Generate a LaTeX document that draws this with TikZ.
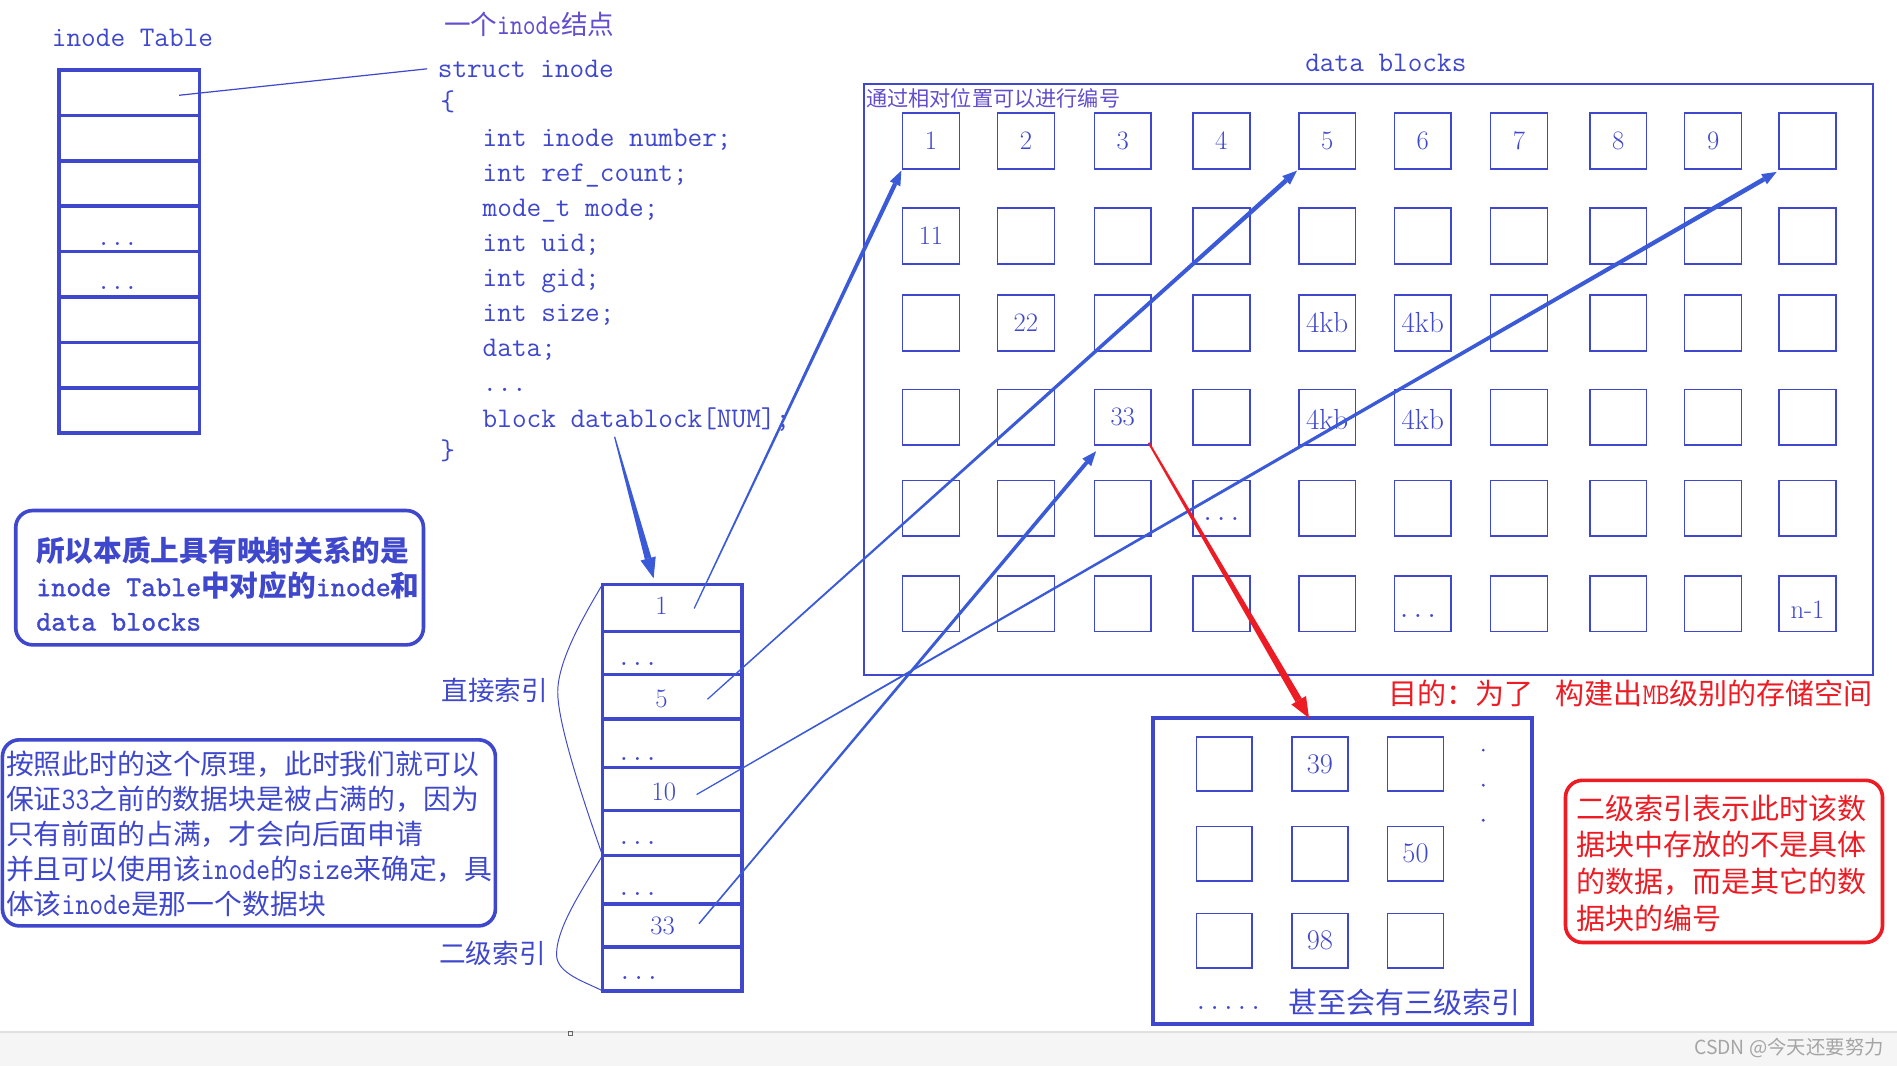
\documentclass[tikz,border=0pt]{standalone}
\usepackage{fontspec}
\newfontfamily\cjk{Noto Sans CJK SC}
\newfontfamily\nmono[FakeStretch=0.84]{lmmono10-regular.otf}
\newfontfamily\bmono[FakeBold=1.2]{lmmono10-regular.otf}
\usetikzlibrary{calc}
\definecolor{pblue}{RGB}{63,72,204}
\definecolor{ablue}{RGB}{58,90,216}
\definecolor{pred}{RGB}{237,28,36}
\definecolor{lpur}{RGB}{98,78,206}
\definecolor{wmgray}{RGB}{165,165,165}
\newcommand\zh[1]{{\cjk #1}}
\newcommand\fsz[1]{\fontsize{#1pt}{#1pt}\selectfont}
\newcommand\nm[2]{{\nmono\fontsize{#1pt}{#1pt}\selectfont #2}}
\newcommand\bm[2]{{\bmono\fontsize{#1pt}{#1pt}\selectfont #2}}
% tapered arrow: color, start, tip, start half-width, end half-width, head length, head half-width
\newcommand\taparrow[7]{%
  \coordinate (tpb) at ($(#3)!#6!(#2)$);
  \fill[#1] ($(#2)!#4!90:(#3)$) -- ($(tpb)!#5!-90:(#2)$) -- ($(tpb)!#5!90:(#2)$) -- ($(#2)!#4!-90:(#3)$) -- cycle;
  \fill[#1] (#3) -- ($(tpb)!#7!90:(#3)$) -- ($(tpb)!#7!-90:(#3)$) -- cycle;
}
\begin{document}
\begin{tikzpicture}[x=1pt,y=-1pt,
  every node/.style={text=pblue, inner sep=0pt, outer sep=0pt},
  dbox/.style={draw=pblue, line width=1.3pt, minimum width=47pt, minimum height=46pt},
  sbox/.style={draw=pblue, line width=1.3pt, minimum width=46pt, minimum height=45pt},
  trow/.style={draw=pblue, line width=3pt, minimum width=116pt, minimum height=37.5pt},
  irow/.style={draw=pblue, line width=3pt, minimum width=115.5pt},
  num/.style={font=\fsz{22}},
  code/.style={anchor=base west, font=\ttfamily\fsz{23.5}},
  dots/.style={anchor=base, font=\ttfamily\fsz{22}},
  brace/.style={draw=pblue, line width=0.8pt},
  rbox/.style={draw=pblue, line width=3pt, rounded corners=14pt}
]
\useasboundingbox (0,0) rectangle (1568,881);
\fill[white] (0,0) rectangle (1568,881);
% bottom band
\fill[black!4] (0,853) rectangle (1568,881);
\draw[black!12, line width=1pt] (0,853) -- (1568,853);
\draw[black!60, line width=0.6pt] (469.5,852.5) rectangle (473,856);
\node[text=wmgray, font=\cjk\fsz{16}, anchor=east] (wmk) at (1557,866) {CSDN @今天还要努力};

% ---------- inode table ----------
\node[font=\ttfamily\fsz{23.5}] (ttl) at (109.5,31) {inode Table};
\foreach \i in {1,...,8} \node[trow] (t\i) at (107,{58+37.5*(\i-0.5)}) {};
\node[dots] (td4) at (97,203) {...};
\node[dots] (td5) at (97,239) {...};

% ---------- struct inode ----------
\node[anchor=west, text=lpur, font=\cjk\fsz{22}] (lab1) at (367,20) {一个\nm{24}{inode}结点};
\node[code] (c0) at (362,64) {struct inode};
\node[code] (cb1) at (364,91) {\{};
\node[code] (c1) at (399,121) {int inode number;};
\node[code] (c2) at (399,150) {int ref\_count;};
\node[code] (c3) at (399,179) {mode\_t mode;};
\node[code] (c4) at (399,208) {int uid;};
\node[code] (c5) at (399,237) {int gid;};
\node[code] (c6) at (399,266) {int size;};
\node[code] (c7) at (399,295) {data;};
\node[code] (c7d) at (399,324) {...};
\node[code] (c8) at (399,353) {block datablock[NUM];};
\node[code] (cb2) at (364,380) {\}};
\coordinate (tlink) at ($(t1.center)+(41,2)$);
\coordinate (slink) at ($(c0.west)+(-9,0)$);
\draw[pblue, line width=1pt] (tlink) -- (slink);

% ---------- data blocks ----------
\node[font=\ttfamily\fsz{23.5}] (dbt) at (1145.5,52) {data blocks};
\node[draw=pblue, line width=1.2pt, minimum width=834pt, minimum height=488.5pt, anchor=north west] (dbr) at (714,69.5) {};
\node[anchor=west, text=lpur, font=\cjk\fsz{17.5}] (dbn) at (716,81) {通过相对位置可以进行编号};
\foreach \x [count=\c] in {769.5,848,928,1009.5,1097,1176,1255.5,1337.5,1416,1494}
  \foreach \y [count=\r] in {116.6,195,267,345,420,499}
    \node[dbox] (b\r x\c) at (\x,\y) {};
\foreach \c in {1,...,9} \node[num] (l1x\c) at (b1x\c) {\c};
\node[num] (l2x1) at (b2x1) {11};
\node[num] (l3x2) at (b3x2) {22};
\node[num, font=\fsz{24}] (l3x5) at (b3x5) {4kb};
\node[num, font=\fsz{24}] (l3x6) at (b3x6) {4kb};
\node[num] (l4x3) at (b4x3) {33};
\node[num, font=\fsz{24}] (l4x5) at ($(b4x5)+(0,1.5)$) {4kb};
\node[num, font=\fsz{24}] (l4x6) at ($(b4x6)+(0,1.5)$) {4kb};
\node[dots] (l5x4) at ($(b5x4)+(0,10)$) {...};
\node[dots] (l6x6) at ($(b6x6)+(-4,11)$) {...};
\node[num] (l6x10) at ($(b6x10)+(0,5)$) {n-1};

% ---------- index table ----------
\node[irow, minimum height=39pt]   (r1) at (555.75,502.5) {};
\node[irow, minimum height=35.5pt] (r2) at (555.75,539.75) {};
\node[irow, minimum height=37pt]   (r3) at (555.75,576) {};
\node[irow, minimum height=40pt]   (r4) at (555.75,614.5) {};
\node[irow, minimum height=35.5pt] (r5) at (555.75,652.25) {};
\node[irow, minimum height=37pt]   (r6) at (555.75,688.5) {};
\node[irow, minimum height=40pt]   (r7) at (555.75,727) {};
\node[irow, minimum height=36pt]   (r8) at (555.75,765) {};
\node[irow, minimum height=36pt]   (r9) at (555.75,801) {};
\node[num] (n1) at ($(r1.center)+(-9,-1.5)$) {1};
\node[num] (n5) at ($(r3.center)+(-9,1.5)$) {5};
\node[num] (n10) at ($(r5.center)+(-7,2)$) {10};
\node[num] (n33) at ($(r8.center)+(-8,0)$) {33};
\node[dots] (d2) at (527,550) {...};
\node[dots] (d4) at (527,629) {...};
\node[dots] (d6) at (527,698) {...};
\node[dots] (d7) at (527,740) {...};
\node[dots] (d9) at (528,810) {...};
% braces
\draw[brace] (r1.north west) .. controls (485,505) and (461,545) .. (461,572) .. controls (461,600) and (485,670) .. (r7.north west);
\draw[brace] (r7.north west) .. controls (485,730) and (460,765) .. (460,789) .. controls (460,805) and (485,812) .. (r9.south west);
\node[anchor=east, font=\cjk\fsz{22}] (zj) at (453,571) {直接索引};
\node[anchor=east, font=\cjk\fsz{22}] (ej) at (451,788) {二级索引};

% ---------- text boxes ----------
\node[rbox, minimum width=337pt, minimum height=111pt] (tb1) at (181.5,477.5) {};
\node[anchor=west, align=left, font=\cjk\bfseries\fontsize{23.7pt}{28.5pt}\selectfont] (tb1t) at (30,482.5)
  {所以本质上具有映射关系的是\\\bm{23.6}{inode Table}中对应的\bm{23.6}{inode}和\\\bm{23.6}{data blocks}};
\node[rbox, minimum width=407.5pt, minimum height=153.8pt] (tb2) at (205.75,688.4) {};
\node[anchor=west, align=left, font=\cjk\fontsize{23pt}{29pt}\selectfont] (tb2t) at (5,689.5)
  {按照此时的这个原理，此时我们就可以\\保证\nm{26}{33}之前的数据块是被占满的，因为\\只有前面的占满，才会向后面申请\\并且可以使用该\nm{26}{inode}的\nm{26}{size}来确定，具\\体该\nm{26}{inode}是那一个数据块};

% ---------- secondary index block ----------
\node[anchor=east, text=pred, font=\cjk\fsz{24}] (goal) at (1548,573) {目的：为了\hspace{18pt}构建出\nm{25}{MB}级别的存储空间};
\node[draw=pblue, line width=3.5pt, minimum width=313pt, minimum height=253pt] (sec) at (1109.5,720) {};
\foreach \x [count=\c] in {1012,1091,1170}
  \foreach \y [count=\r] in {631.5,705.5,777.5}
    \node[sbox] (s\r x\c) at (\x,\y) {};
\node[num, font=\fsz{23.5}] (ls1) at (s1x2) {39};
\node[num, font=\fsz{23.5}] (ls2) at (s2x3) {50};
\node[num, font=\fsz{23.5}] (ls3) at (s3x2) {98};
\foreach \y in {620,649,678} \fill[pblue] (1226,\y) circle (1.3pt);
\node[anchor=base west, font=\ttfamily\fsz{22}] (sdots) at (987,834) {.....};
\node[anchor=west, font=\cjk\fsz{24}] (three) at (1065,829) {甚至会有三级索引};

\node[draw=pred, line width=3pt, rounded corners=14pt, minimum width=262pt, minimum height=134pt] (redbox) at (1425,712) {};
\node[anchor=west, align=left, text=pred, font=\cjk\fontsize{24pt}{30.3pt}\selectfont] (redt) at (1303,713.5)
  {二级索引表示此时该数\\据块中存放的不是具体\\的数据，而是其它的数\\据块的编号};

% ---------- arrows ----------
\coordinate (p1) at ($(r1.center)+(18,0.5)$);
\coordinate (p5) at ($(r3.center)+(29,2)$);
\coordinate (p10) at ($(r5.center)+(20,4.5)$);
\coordinate (p33) at ($(r8.center)+(22,-1.5)$);
\coordinate (e1) at ($(b1x1.south west)+(-1,1.5)$);
\coordinate (e5) at ($(b1x5.south west)+(-1.5,1.5)$);
\coordinate (e10) at ($(b1x10.south west)+(-2,2.5)$);
\coordinate (e33) at ($(b4x3.south west)+(1.5,5)$);
\taparrow{ablue}{p1}{e1}{0.5pt}{1.8pt}{12pt}{4.8pt}
\taparrow{ablue}{p5}{e5}{0.5pt}{1.9pt}{12pt}{4.8pt}
\taparrow{ablue}{p10}{e10}{0.5pt}{1.9pt}{12pt}{4.8pt}
\taparrow{ablue}{p33}{e33}{0.6pt}{1.6pt}{12pt}{4.8pt}
\coordinate (bs) at (508,361);
\coordinate (be) at ($(r1.north)+(-15.5,-5)$);
\taparrow{ablue}{bs}{be}{0.5pt}{2.8pt}{17pt}{6.5pt}
\coordinate (rs) at ($(b4x3.south east)+(-2,-2)$);
\coordinate (re) at ($(sec.north)+(-27.5,0)$);
\taparrow{pred}{rs}{re}{0.8pt}{3pt}{17pt}{7pt}
\end{tikzpicture}
\end{document}
